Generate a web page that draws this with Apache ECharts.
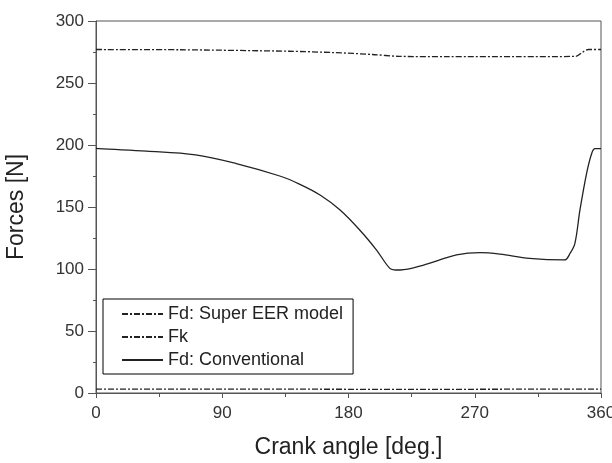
<!DOCTYPE html>
<html>
  <head>
    <meta charset="utf-8" />
    <title>Forces vs crank angle</title>
    <script src="https://cdn.jsdelivr.net/npm/echarts@6/dist/echarts.min.js"></script>
    <style>
      body { margin: 0; background: #fff; }
    </style>
  </head>
  <body>
    <div id="main" style="width: 612px; height: 463px"></div>
    <script>
      // values
      var seriesNames = ["Fd: Super EER model", "Fk", "Fd: Conventional"];

      var eerAngle = [0, 90, 180, 270, 360];
      var eerForce = [3.2, 3.2, 3.0, 3.0, 3.2];

      var fkAngle = [0, 60, 138, 170, 197, 216, 250, 300, 342, 347, 351, 360];
      var fkForce = [277, 276.8, 275.6, 274.5, 273, 271.5, 271.2, 271.2, 271.5, 275, 277, 277];

      var convAngle = [0, 2, 36, 71, 100, 131, 145, 160, 174, 188, 200, 209.5, 214, 217, 233, 257, 274, 288, 309, 334, 338, 341.4, 345, 349.7, 353.3, 355.7, 360];
      var convForce = [197.5, 197, 195, 192, 185, 175, 168.5, 159.5, 147.6, 131.5, 115.3, 100.5, 99.2, 99.2, 103, 111.3, 113.2, 112, 108.6, 107.3, 112.7, 120.7, 147.6, 177, 193, 197, 197];

      function pairs(xs, ys) {
        var out = [];
        for (var i = 0; i < xs.length; i++) out.push([xs[i], ys[i]]);
        return out;
      }

      var myChart = echarts.init(document.getElementById("main"));
      var axisGray = "#555";
      var dashDot = [6, 2, 2, 2];

      var option = {
        animation: false,
        backgroundColor: "#fff",
        textStyle: { fontFamily: "Liberation Sans, Arial, sans-serif" },
        grid: {
          left: 96, right: 11, top: 21, bottom: 70,
          outerBoundsMode: "none", containLabel: false,
          show: true, borderColor: axisGray, borderWidth: 1
        },
        legend: {
          orient: "vertical",
          left: 103, top: 299,
          padding: [6, 10, 5, 18],
          itemGap: 5,
          itemWidth: 41, itemHeight: 12,
          borderColor: "#000", borderWidth: 1,
          itemStyle: { opacity: 0 },
          textStyle: { fontSize: 18, color: "#222" },
          data: seriesNames
        },
        xAxis: {
          type: "value", min: 0, max: 360, interval: 90,
          name: "Crank angle [deg.]", nameLocation: "middle", nameGap: 43,
          nameTextStyle: { fontSize: 23, color: "#222" },
          axisLine: { lineStyle: { color: axisGray } },
          axisTick: { length: 5, lineStyle: { color: axisGray } },
          minorTick: { show: true, splitNumber: 2, length: 4, lineStyle: { color: axisGray } },
          axisLabel: { fontSize: 17, color: "#333", margin: 12 },
          splitLine: { show: false }
        },
        yAxis: {
          type: "value", min: 0, max: 300, interval: 50,
          name: "Forces [N]", nameLocation: "middle", nameGap: 68,
          nameTextStyle: { fontSize: 23, color: "#222" },
          axisLine: { show: true, lineStyle: { color: axisGray } },
          axisTick: { show: true, length: 8, lineStyle: { color: axisGray } },
          minorTick: { show: true, splitNumber: 2, length: 3, lineStyle: { color: axisGray } },
          axisLabel: { fontSize: 17, color: "#333", margin: 12 },
          splitLine: { show: false }
        },
        series: [
          {
            name: seriesNames[0], type: "line", symbol: "none",
            data: pairs(eerAngle, eerForce),
            lineStyle: { color: "#222", width: 1.3, type: dashDot }
          },
          {
            name: seriesNames[1], type: "line", symbol: "none",
            smooth: 0.3,
            data: pairs(fkAngle, fkForce),
            lineStyle: { color: "#222", width: 1.3, type: dashDot }
          },
          {
            name: seriesNames[2], type: "line", symbol: "none",
            smooth: 0.35,
            data: pairs(convAngle, convForce),
            lineStyle: { color: "#222", width: 1.3, type: "solid" }
          }
        ]
      };

      myChart.setOption(option);
    </script>
  </body>
</html>
